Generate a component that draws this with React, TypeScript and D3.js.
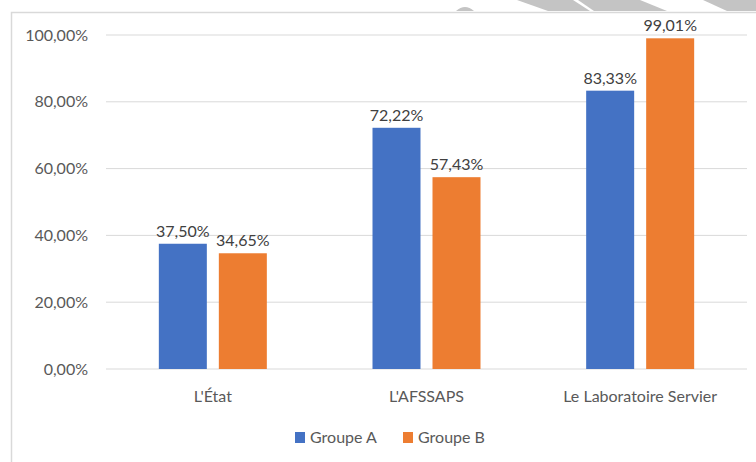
import React from 'react';
import * as d3 from 'd3';

const categories = ["L'État", "L'AFSSAPS", 'Le Laboratoire Servier'];
const seriesNames = ['Groupe A', 'Groupe B'];
const groupeA = [0.375, 0.7222, 0.8333];
const groupeB = [0.3465, 0.5743, 0.9901];
const yTicks = [0, 0.2, 0.4, 0.6, 0.8, 1];
const colors = ['#4472C4', '#ED7D31'];

const width = 756;
const height = 462;
const margin = { top: 35, right: 9, bottom: 93, left: 106 };
const font = 'Lato, "Open Sans", sans-serif';
const textColor = '#595959';

const fmt = (v: number) => (v * 100).toFixed(2).replace('.', ',') + '%';

// watermark stripes peeking in at the top edge
const stripes = [
    [[517, 0], [573, 0], [590, 11], [548, 11]],
    [[578, 0], [640, 0], [667, 11], [594, 11]],
    [[703, 0], [760, 0], [760, 11], [727, 11]],
];

export default function App() {
    const x = d3.scaleBand(categories, [margin.left, width - margin.right]);
    const inner = d3.scaleBand(seriesNames, [0, 108]).paddingInner(0.2);
    const y = d3.scaleLinear([0, 1], [height - margin.bottom, margin.top]);
    const values = [groupeA, groupeB];

    return (
        <svg
            width={width}
            height={height}
            style={{ position: 'absolute', left: 0, top: 0, background: '#fff' }}
            fontFamily={font}
        >
            <rect x={0} y={0} width={width} height={height} fill="#fff" />
            {stripes.map((p, i) => (
                <polygon key={i} points={p.map(d => d.join(',')).join(' ')} fill="#c4c4c4" />
            ))}
            <path d="M456,11 Q465,3 474,11 Z" fill="#c4c4c4" />
            <path d={`M11.5,${height} V12.5 H${width}`} fill="none" stroke="#d9d9d9" strokeWidth={1.5} />

            {yTicks.map(t => (
                <g key={t}>
                    <line
                        x1={margin.left}
                        x2={width - margin.right}
                        y1={y(t)}
                        y2={y(t)}
                        stroke="#d9d9d9"
                        strokeWidth={1}
                    />
                    <text x={88} y={y(t) + 5.5} textAnchor="end" fontSize={16} fill={textColor}>
                        {fmt(t)}
                    </text>
                </g>
            ))}

            {categories.map((c, i) => {
                const cx = x(c)! + x.bandwidth() / 2;
                const x0 = cx - 54;
                return (
                    <g key={c}>
                        {seriesNames.map((s, j) => {
                            const v = values[j][i];
                            const bx = x0 + inner(s)!;
                            return (
                                <g key={s}>
                                    <rect
                                        x={bx}
                                        y={y(v)}
                                        width={inner.bandwidth()}
                                        height={y(0) - y(v)}
                                        fill={colors[j]}
                                    />
                                    <text
                                        x={bx + inner.bandwidth() / 2}
                                        y={y(v) - 7}
                                        textAnchor="middle"
                                        fontSize={16}
                                        fill="#404040"
                                    >
                                        {fmt(v)}
                                    </text>
                                </g>
                            );
                        })}
                        <text x={cx} y={402} textAnchor="middle" fontSize={16} fill={textColor}>
                            {c}
                        </text>
                    </g>
                );
            })}

            <g>
                {seriesNames.map((s, j) => {
                    const lx = j === 0 ? 295 : 403;
                    return (
                        <g key={s}>
                            <rect x={lx} y={432} width={10} height={11} fill={colors[j]} />
                            <text x={lx + 15} y={443} fontSize={16} fill={textColor}>
                                {s}
                            </text>
                        </g>
                    );
                })}
            </g>
        </svg>
    );
}
